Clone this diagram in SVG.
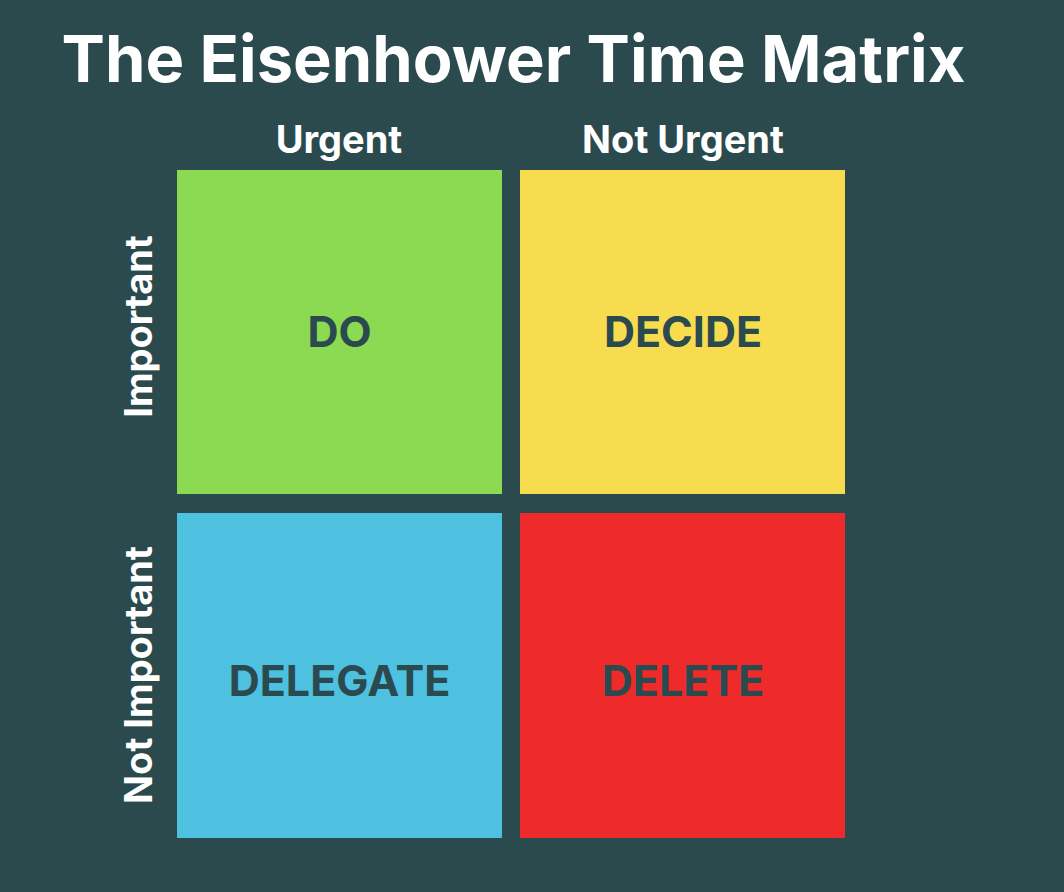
<svg xmlns="http://www.w3.org/2000/svg" width="1064" height="892" viewBox="0 0 1064 892">
<style>
.t{font-family:Inter,"Noto Sans","Liberation Sans",sans-serif;font-weight:700;text-anchor:middle}
.w{fill:#ffffff}
.h{font-size:38px}
.q{fill:#2a4a4f;font-size:43px}
</style>
<rect width="1064" height="892" fill="#2a4a4e"/>
<text class="t w" x="513.5" y="82" font-size="65">The Eisenhower Time Matrix</text>
<text class="t w h" x="339" y="153">Urgent</text>
<text class="t w h" x="683" y="153">Not Urgent</text>
<text class="t w h" transform="translate(152,326.5) rotate(-90)">Important</text>
<text class="t w h" transform="translate(152,675) rotate(-90)">Not Important</text>
<g id="do"><rect x="177" y="170" width="325" height="324" fill="#8cd952"/><text class="t q" x="339.5" y="346.5">DO</text></g>
<g id="decide"><rect x="520" y="170" width="325" height="324" fill="#f8dc50"/><text class="t q" x="683" y="346.5">DECIDE</text></g>
<g id="delegate"><rect x="177" y="513" width="325" height="325" fill="#4ec0e0"/><text class="t q" x="339.5" y="695.5">DELEGATE</text></g>
<g id="delete"><rect x="520" y="513" width="325" height="325" fill="#ef2a2b"/><text class="t q" x="683" y="695.5">DELETE</text></g>
<g id="connectors"/>
</svg>
